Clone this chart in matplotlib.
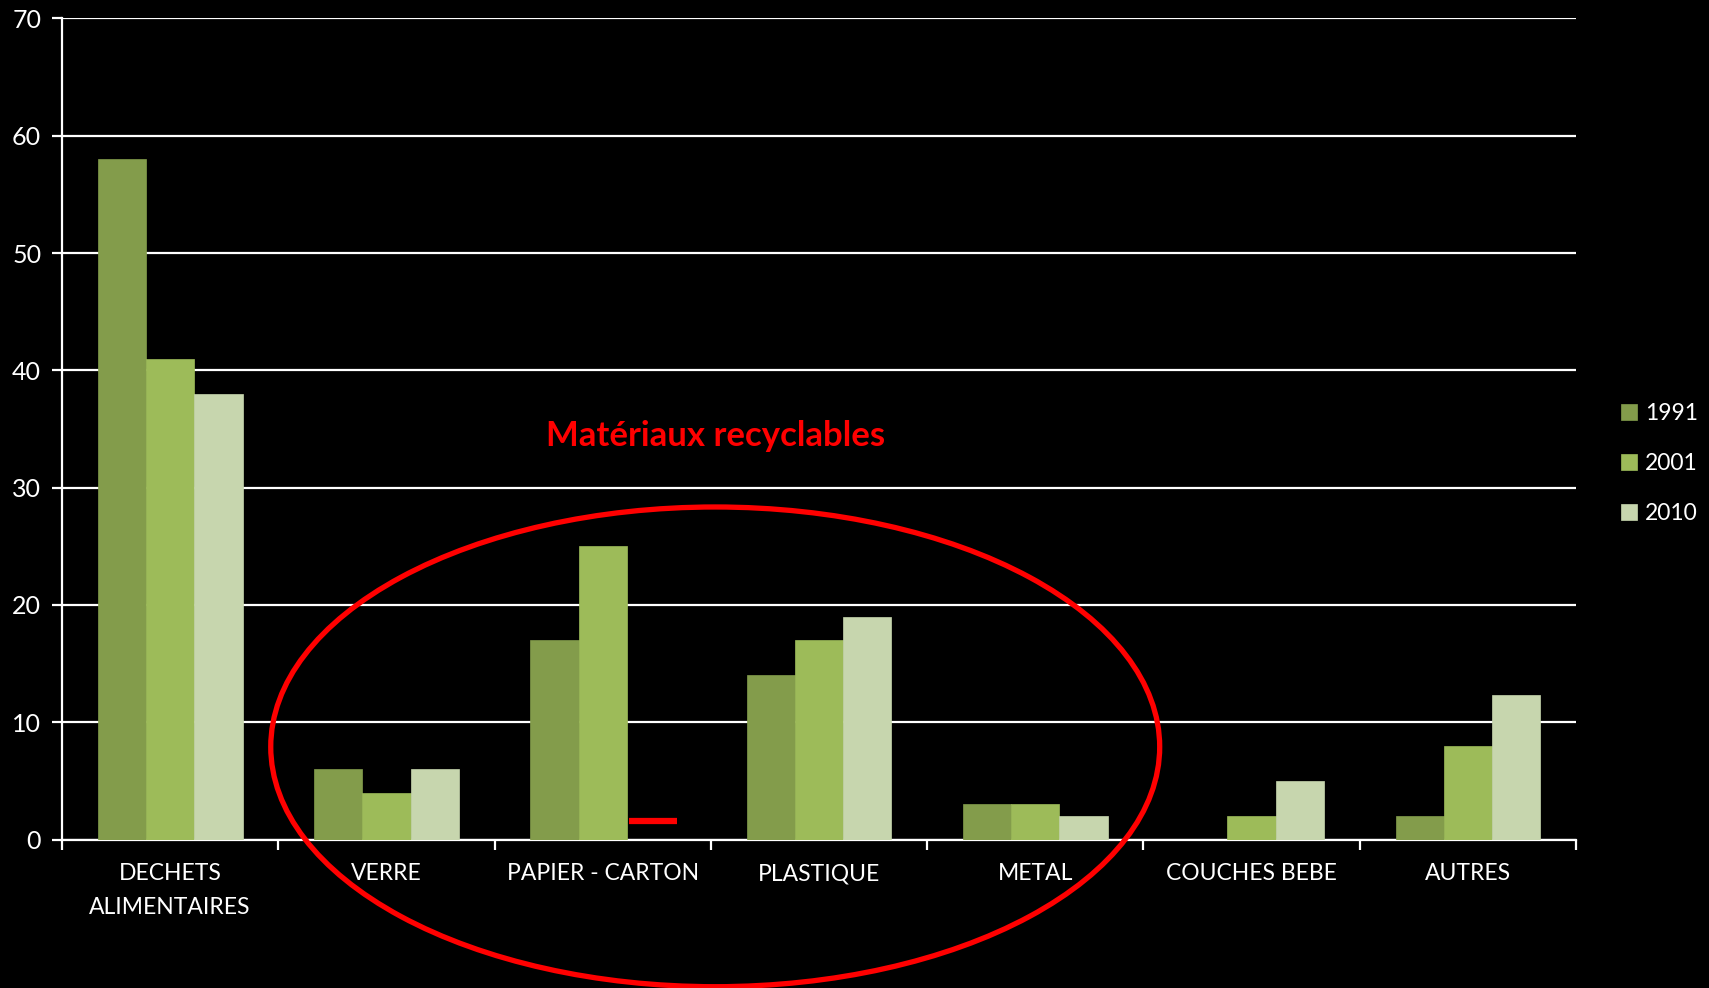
import numpy as np
import matplotlib
matplotlib.use('Agg')
import matplotlib.pyplot as plt
from matplotlib.patches import Ellipse

# data
categories = ['DECHETS\nALIMENTAIRES', 'VERRE', 'PAPIER - CARTON', 'PLASTIQUE',
              'METAL', 'COUCHES BEBE', 'AUTRES']
years = ['1991', '2001', '2010']
v1991 = [58, 6, 17, 14, 3, np.nan, 2]
v2001 = [41, 4, 25, 17, 3, 2, 8]
v2010 = [38, 6, np.nan, 19, 2, 5, 12.3]
colors = ['#839C4B', '#9DBB59', '#C7D6AE']
note = 'Matériaux recyclables'
dash_level = 1.6  # red mark on missing papier 2010

plt.rcParams['font.family'] = ['Lato', 'DejaVu Sans']

fig = plt.figure(figsize=(17.09, 9.88), dpi=100, facecolor='black')
ax = fig.add_axes([0.0363, 0.1503, 0.9222 - 0.0363, 0.9813 - 0.1503])
ax.set_facecolor('black')

x = np.arange(len(categories))
w = 0.223
for i, (vals, lab) in enumerate(zip([v1991, v2001, v2010], years)):
    ax.bar(x + (i - 1) * w, vals, w, color=colors[i], label=lab,
           edgecolor=colors[i], linewidth=0.5, zorder=3)

ax.set_xlim(-0.5, len(categories) - 0.5)
ax.set_ylim(0, 70)
ax.set_yticks(range(0, 71, 10))
ax.yaxis.grid(True, color='white', lw=1.6, zorder=0)
ax.set_xticks(x)
ax.set_xticklabels(categories, color='white', fontsize=16.5, linespacing=1.75)
ax.set_xticks(np.arange(-0.5, len(categories)), minor=True)
ax.tick_params(axis='x', which='major', length=0, pad=17)
ax.tick_params(axis='x', which='minor', length=7, width=1.6, color='white', direction='out')
ax.tick_params(axis='y', length=7, width=1.6, color='white', labelcolor='white',
               labelsize=18, pad=8)
for s in ['top', 'right']:
    ax.spines[s].set_visible(False)
for s in ['left', 'bottom']:
    ax.spines[s].set_color('white')
    ax.spines[s].set_linewidth(1.6)

# annotations
ax.hlines(dash_level, 2 + w / 2 + 0.01, 2 + 1.5 * w + 0.01, color='red', lw=4.5, zorder=4)
ax.add_patch(Ellipse((2.52, 7.9), 4.11, 40.9, fill=False, edgecolor='red', lw=3.8,
                     clip_on=False, zorder=5))
ax.text(2.52, 34.4, note, color='red', fontsize=25, fontweight='bold',
        ha='center', va='center')

leg = ax.legend(loc='center left', bbox_to_anchor=(1.016, 0.458), frameon=False,
                fontsize=16.5, labelcolor='white', handlelength=0.7, handleheight=0.7,
                handletextpad=0.35, labelspacing=1.25, borderpad=0.4)

fig.savefig('out.png', dpi=100, facecolor='black')
